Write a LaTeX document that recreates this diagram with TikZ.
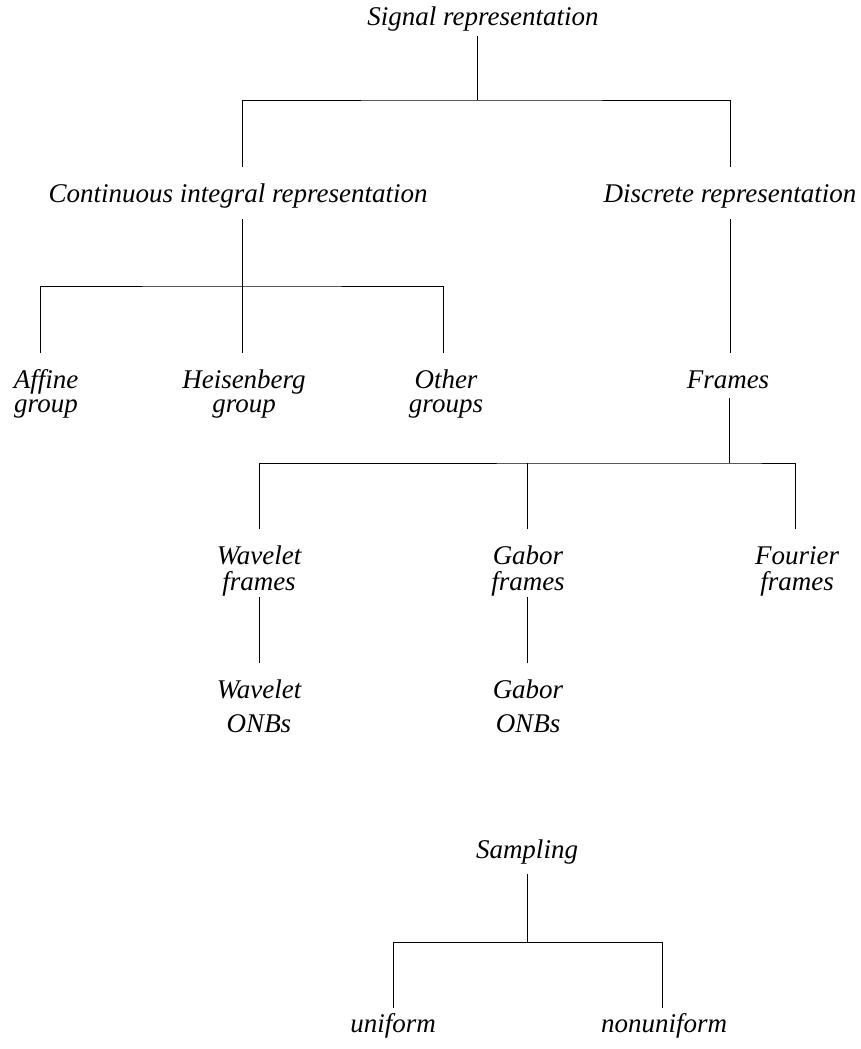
\documentclass[tikz,border=0pt]{standalone}
\usepackage{fontspec}
\setmainfont{Liberation Serif}
\newcommand\twol[2]{\begin{tabular}[t]{@{}c@{}}#1\\#2\end{tabular}}
\newcommand\twolw[2]{\begin{tabular}[t]{@{}c@{}}#1\\[9pt]#2\end{tabular}}
\begin{document}
\begin{tikzpicture}[x=1pt,y=-1pt,
  lbl/.style={anchor=base, inner sep=0pt, font=\fontsize{27}{24}\selectfont\itshape},
  conn/.style={line width=0.9pt}]
\useasboundingbox (0,0) rectangle (860,1049);
\node[lbl] (sig) at (483,26) {Signal representation};
\node[lbl] (cont) at (238,202) {Continuous integral representation};
\node[lbl] (disc) at (730,202) {Discrete representation};
\node[lbl] (aff) at (46,388) {\twol{Affine}{group}};
\node[lbl] (heis) at (244,388) {\twol{Heisenberg}{group}};
\node[lbl] (oth) at (446,388) {\twol{Other}{groups}};
\node[lbl] (fra) at (728,388) {Frames};
\node[lbl] (wf) at (259,564) {\twol{Wavelet}{frames}};
\node[lbl] (gf) at (528,564) {\twol{Gabor}{frames}};
\node[lbl] (ff) at (797,564) {\twol{Fourier}{frames}};
\node[lbl] (wo) at (259,698) {\twolw{Wavelet}{ONBs}};
\node[lbl] (go) at (528,698) {\twolw{Gabor}{ONBs}};
\node[lbl] (samp) at (527,858) {Sampling};
\node[lbl] (uni) at (393,1032) {uniform};
\node[lbl] (non) at (664,1032) {nonuniform};
\coordinate (bar1) at (477,100);
\coordinate (bar2) at (242,286);
\coordinate (bar3) at (729,463);
\coordinate (bar4) at (527,942);
\draw[conn] ([xshift=-6pt,yshift=-10pt]sig.base) -- (bar1);
\draw[conn] ([xshift=4pt,yshift=35pt]cont.base) |- (bar1) -| ([yshift=35pt]disc.base);
\draw[conn] ([xshift=4pt,yshift=-17pt]cont.base) -- (bar2);
\draw[conn] ([xshift=-6pt,yshift=35pt]aff.base) |- (bar2) -| ([xshift=-3pt,yshift=35pt]oth.base);
\draw[conn] (bar2) -- ([xshift=-2pt,yshift=35pt]heis.base);
\draw[conn] ([yshift=-17pt]disc.base) -- ([yshift=35pt]disc.base |- fra.base);
\draw[conn] ([xshift=1pt,yshift=-10pt]fra.base) -- (bar3);
\draw[conn] ([yshift=35pt]wf.base) |- (bar3) -| ([xshift=-2pt,yshift=35pt]ff.base);
\draw[conn] ([xshift=-1pt,yshift=35pt]gf.base) -- ([xshift=-1pt]gf.base |- bar3);
\draw[conn] ([yshift=-33pt]wf.base) -- ([yshift=35pt]wo.base);
\draw[conn] ([xshift=-1pt,yshift=-33pt]gf.base) -- ([xshift=-1pt,yshift=35pt]go.base);
\draw[conn] ([yshift=-16pt]samp.base) -- (bar4);
\draw[conn] ([yshift=24pt]uni.base) |- (bar4) -| ([xshift=-2pt,yshift=24pt]non.base);
\end{tikzpicture}
\end{document}
